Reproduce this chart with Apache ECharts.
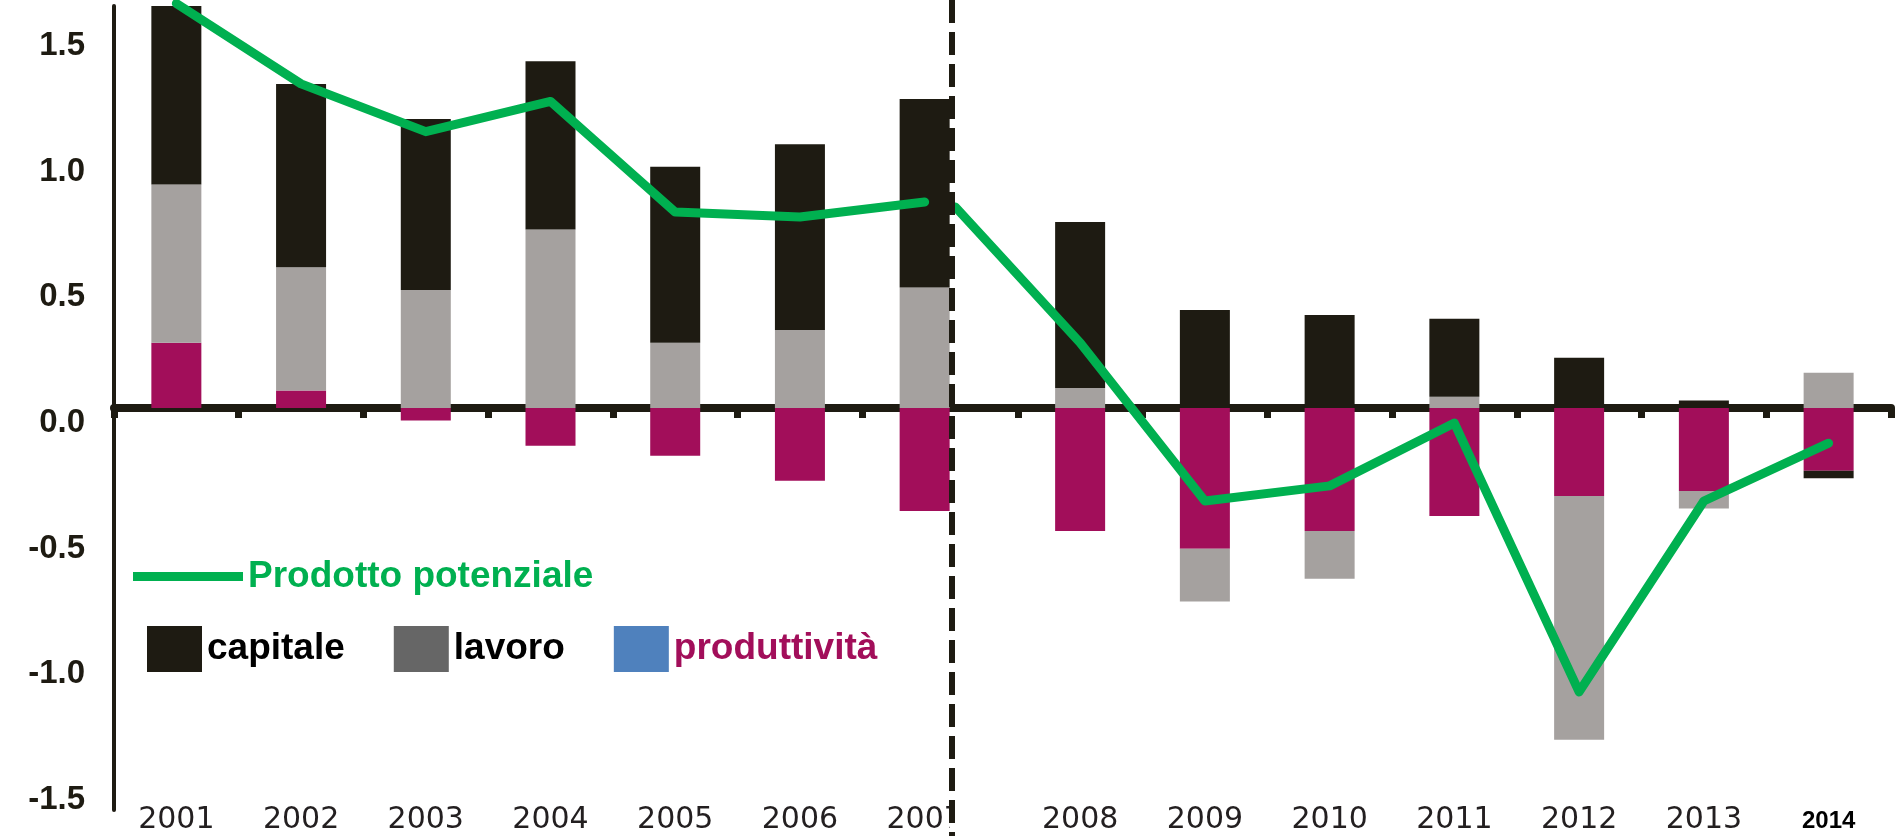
<!DOCTYPE html>
<html>
<head>
<meta charset="utf-8">
<script src="https://cdn.jsdelivr.net/npm/echarts@6/dist/echarts.min.js"></script>
<style>
  html, body { margin: 0; padding: 0; background: #fff; }
  #chart { width: 1895px; height: 836px; }
</style>
</head>
<body>
<div id="chart"></div>
<script>
// prima della crisi
var yearsBefore = ['2001', '2002', '2003', '2004', '2005', '2006', '2007'];
var produttivitaBefore = [0.26, 0.07, -0.05, -0.15, -0.19, -0.29, -0.41];
var lavoroBefore = [0.63, 0.49, 0.47, 0.71, 0.26, 0.31, 0.48];
var capitaleBefore = [0.71, 0.73, 0.68, 0.67, 0.70, 0.74, 0.75];
var potenzialeBefore = [1.61, 1.29, 1.10, 1.22, 0.78, 0.76, 0.82];

// durante la crisi (2007 only carries the start of the line)
var yearsDuring = ['2007', '2008', '2009', '2010', '2011', '2012', '2013', '2014'];
var produttivitaDuring = [null, -0.49, -0.56, -0.49, -0.43, -0.35, -0.33, -0.25];
var lavoroDuring = [null, 0.08, -0.21, -0.19, 0.045, -0.97, -0.07, 0.14];
var capitaleDuring = [null, 0.66, 0.39, 0.37, 0.31, 0.20, 0.03, -0.03];
var potenzialeDuring = [0.80, 0.26, -0.37, -0.31, -0.06, -1.13, -0.37, -0.14];

var yTicks = [-1.5, -1.0, -0.5, 0.0, 0.5, 1.0, 1.5];

var DARK = '#1e1b12', GREY = '#a5a19f', PURPLE = '#a20e5a', GREEN = '#00b050';

var chart = echarts.init(document.getElementById('chart'));

function zeroAxis(grid, cats, tickFn) {
  return {
    type: 'category', gridIndex: grid, data: cats,
    axisLine: { onZero: true, lineStyle: { color: DARK, width: 8 } },
    axisTick: { show: true, length: 10, interval: tickFn, lineStyle: { color: DARK, width: 7 } },
    axisLabel: { show: false },
    splitLine: { show: false }
  };
}

function labelAxis(grid, cats, fmt) {
  return {
    type: 'category', gridIndex: grid, data: cats, position: 'bottom',
    axisLine: { show: false, onZero: false },
    axisTick: { show: false },
    axisLabel: {
      interval: 0, margin: -5, fontFamily: 'DejaVu Sans', fontSize: 30, color: '#231f20',
      formatter: fmt,
      rich: { b: { fontFamily: 'Liberation Sans', fontWeight: 'bold', fontSize: 24, color: '#000', padding: [4, 0, 0, 0] } }
    }
  };
}

function bars(grid, stack, name, data, color) {
  return {
    name: name, type: 'bar', stack: stack, xAxisIndex: grid * 2, yAxisIndex: grid,
    data: data, barWidth: 50, itemStyle: { color: color }, z: 2
  };
}

var option = {
  backgroundColor: '#fff',
  animation: false,
  grid: [
    { left: 114, right: 908, top: 6, bottom: 26 },
    { left: 893, right: 4, top: 6, bottom: 26 }
  ],
  xAxis: [
    zeroAxis(0, yearsBefore, 0),
    labelAxis(0, yearsBefore, function (v) { return v; }),
    zeroAxis(1, yearsDuring, function (i) { return i > 0; }),
    labelAxis(1, yearsDuring, function (v, i) {
      if (i === 0) return '';
      if (v === '2014') return '{b|' + v + '}';
      return v;
    })
  ],
  yAxis: [
    {
      type: 'value', gridIndex: 0, min: -1.6, max: 1.6,
      axisLine: { show: true, lineStyle: { color: DARK, width: 4 } },
      axisTick: { show: false },
      splitLine: { show: false },
      axisLabel: {
        customValues: yTicks, margin: 29, verticalAlign: 'top', lineHeight: 30,
        fontFamily: 'Liberation Sans', fontWeight: 'bold', fontSize: 33, color: DARK,
        formatter: function (v) { return v.toFixed(1); }
      }
    },
    {
      type: 'value', gridIndex: 1, min: -1.6, max: 1.6, show: false,
      splitLine: { show: false }
    }
  ],
  legend: [
    {
      left: 128, top: 553, orient: 'horizontal', selectedMode: false,
      itemWidth: 110, itemHeight: 9,
      textStyle: { fontFamily: 'Liberation Sans', fontWeight: 'bold', fontSize: 37, color: GREEN, padding: [8, 0, 0, 0] },
      data: [{ name: 'Prodotto potenziale', icon: 'rect', itemStyle: { color: GREEN } }]
    },
    {
      left: 142, top: 621, orient: 'horizontal', selectedMode: false,
      itemWidth: 55, itemHeight: 46, itemGap: 49,
      textStyle: { fontFamily: 'Liberation Sans', fontWeight: 'bold', fontSize: 37, color: '#000', padding: [18, 0, 0, 0] },
      data: [
        { name: 'capitale', icon: 'rect', itemStyle: { color: DARK } },
        { name: 'lavoro', icon: 'rect', itemStyle: { color: '#666666' } },
        { name: 'produttività', icon: 'rect', itemStyle: { color: '#4f81bd' }, textStyle: { color: PURPLE } }
      ]
    }
  ],
  series: [
    bars(0, 'before', 'produttività', produttivitaBefore, PURPLE),
    bars(0, 'before', 'lavoro', lavoroBefore, GREY),
    bars(0, 'before', 'capitale', capitaleBefore, DARK),
    bars(1, 'during', 'produttività', produttivitaDuring, PURPLE),
    bars(1, 'during', 'lavoro', lavoroDuring, GREY),
    bars(1, 'during', 'capitale', capitaleDuring, DARK),
    {
      name: 'Prodotto potenziale', type: 'line', xAxisIndex: 0, yAxisIndex: 0,
      data: potenzialeBefore, symbol: 'none', clip: false, z: 5,
      lineStyle: { color: GREEN, width: 9, cap: 'round', join: 'round' }, itemStyle: { color: GREEN }
    },
    {
      name: 'Prodotto potenziale', type: 'line', xAxisIndex: 2, yAxisIndex: 1,
      data: potenzialeDuring, symbol: 'none', clip: false, z: 5,
      lineStyle: { color: GREEN, width: 9, cap: 'round', join: 'round' }, itemStyle: { color: GREEN }
    }
  ],
  graphic: [
    // the right panel sits over the left one from the divider on
    { type: 'rect', z: 50, shape: { x: 950, y: 412, width: 50, height: 424 }, style: { fill: '#fff' } },
    { type: 'line', z: 100, shape: { x1: 952, y1: 0, x2: 952, y2: 836 },
      style: { stroke: DARK, lineWidth: 6, lineDash: [23, 9] } },
    // panel titles, cut off by the top edge
    { type: 'text', z: 1, x: 250, y: 9,
      style: { text: 'Prima della crisi', font: 'bold 52px "Liberation Sans"', fill: '#777', verticalAlign: 'bottom' } },
    { type: 'text', z: 1, x: 1250, y: 9,
      style: { text: 'Durante la crisi', font: 'bold 52px "Liberation Sans"', fill: '#777', verticalAlign: 'bottom' } }
  ]
};

chart.setOption(option);
</script>
</body>
</html>
